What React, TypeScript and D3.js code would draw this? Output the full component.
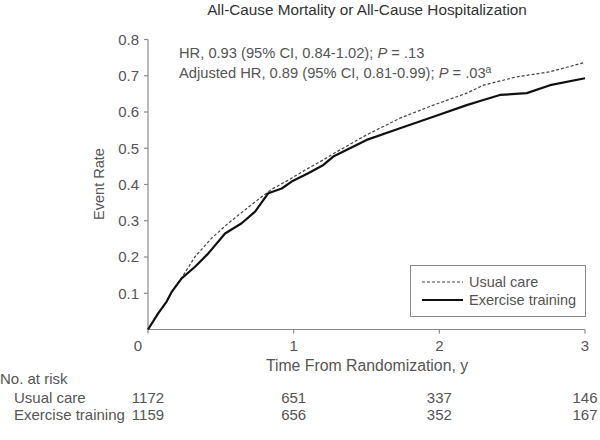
import React from 'react'
import * as d3 from 'd3'

// Cumulative event rates
const usualTimes = [0, 0.071, 0.128, 0.163, 0.243, 0.323, 0.437, 0.551, 0.666, 0.78, 0.849, 0.963, 1.078, 1.204, 1.272, 1.501, 1.73, 1.959, 2.188, 2.302, 2.531, 2.76, 3.0]
const usualRates = [0, 0.045, 0.077, 0.104, 0.15, 0.201, 0.252, 0.293, 0.33, 0.366, 0.387, 0.412, 0.44, 0.468, 0.485, 0.537, 0.583, 0.619, 0.652, 0.674, 0.697, 0.711, 0.737]

const exerciseTimes = [0, 0.071, 0.128, 0.163, 0.231, 0.323, 0.414, 0.529, 0.643, 0.735, 0.826, 0.918, 0.986, 1.1, 1.204, 1.272, 1.501, 1.73, 1.959, 2.188, 2.302, 2.416, 2.6, 2.76, 3.0]
const exerciseRates = [0, 0.045, 0.077, 0.104, 0.141, 0.173, 0.21, 0.265, 0.293, 0.325, 0.376, 0.389, 0.408, 0.431, 0.454, 0.477, 0.523, 0.555, 0.587, 0.619, 0.633, 0.647, 0.652, 0.674, 0.693]

const yTicks = [0.1, 0.2, 0.3, 0.4, 0.5, 0.6, 0.7, 0.8]
const xTicks = [0, 1, 2, 3]

const riskGroups = ['Usual care', 'Exercise training']
const riskCounts = [
  [1172, 651, 337, 146],
  [1159, 656, 352, 167],
]

const FONT = '"Liberation Sans", Arial, sans-serif'
const TEXT = '#555'
const AXIS = '#8a8a8a'

export default function App() {
  const width = 600
  const height = 440

  const x = d3.scaleLinear().domain([0, 3]).range([148, 585])
  const y = d3.scaleLinear().domain([0, 0.8]).range([329.5, 39.5])

  const line = d3.line<[number, number]>()
    .x(d => x(d[0]))
    .y(d => y(d[1]))
    .curve(d3.curveLinear)

  const usual = usualTimes.map((t, i) => [t, usualRates[i]] as [number, number])
  const exercise = exerciseTimes.map((t, i) => [t, exerciseRates[i]] as [number, number])

  return (
    <svg
      width={width}
      height={height}
      style={{ position: 'absolute', left: 0, top: 0, background: '#fff' }}
      fontFamily={FONT}
    >
      {/* title */}
      <text x={367} y={15} textAnchor="middle" fontSize={15.3} fill="#333">
        All-Cause Mortality or All-Cause Hospitalization
      </text>

      {/* y axis */}
      <line x1={x(0)} x2={x(0)} y1={y(0)} y2={y(0.8)} stroke={AXIS} strokeWidth={1.2} />
      {yTicks.map(t => (
        <g key={t}>
          <line x1={x(0) - 4} x2={x(0)} y1={y(t)} y2={y(t)} stroke={AXIS} strokeWidth={1.2} />
          <text x={139} y={y(t)} dy="0.35em" textAnchor="end" fontSize={15} fill={TEXT}>
            {t.toFixed(1)}
          </text>
        </g>
      ))}
      <text
        transform={`translate(104,184) rotate(-90)`}
        textAnchor="middle"
        fontSize={14.5}
        fill={TEXT}
      >
        Event Rate
      </text>

      {/* x axis */}
      <line x1={x(0)} x2={x(3)} y1={y(0)} y2={y(0)} stroke={AXIS} strokeWidth={1.2} />
      {xTicks.map(t => (
        <g key={t}>
          <line x1={x(t)} x2={x(t)} y1={y(0)} y2={y(0) + 4} stroke={AXIS} strokeWidth={1.2} />
          <text x={t === 0 ? x(t) - 10 : x(t)} y={351} textAnchor="middle" fontSize={15} fill={TEXT}>
            {t}
          </text>
        </g>
      ))}
      <text x={367} y={371} textAnchor="middle" fontSize={15.8} fill={TEXT}>
        Time From Randomization, y
      </text>

      {/* curves */}
      <path d={line(usual) ?? ''} fill="none" stroke="#444" strokeWidth={1.2} strokeDasharray="3,2" />
      <path d={line(exercise) ?? ''} fill="none" stroke="#111" strokeWidth={2.2} strokeLinejoin="round" />

      {/* annotation */}
      <text x={179} y={58} fontSize={14.7} fill={TEXT}>
        HR, 0.93 (95% CI, 0.84-1.02); <tspan fontStyle="italic">P</tspan> = .13
      </text>
      <text x={179} y={78} fontSize={14.7} fill={TEXT}>
        Adjusted HR, 0.89 (95% CI, 0.81-0.99); <tspan fontStyle="italic">P</tspan> = .03
        <tspan dy={-5} fontSize={10.5}>a</tspan>
      </text>

      {/* legend */}
      <rect x={410.5} y={265.5} width={175} height={51} fill="#fff" stroke={AXIS} strokeWidth={1} />
      <line x1={422} x2={463} y1={282} y2={282} stroke="#444" strokeWidth={1.2} strokeDasharray="3,2" />
      <line x1={422} x2={463} y1={300} y2={300} stroke="#111" strokeWidth={2.2} />
      <text x={469} y={287} fontSize={14.5} fill={TEXT}>Usual care</text>
      <text x={469} y={305} fontSize={14.5} fill={TEXT}>Exercise training</text>

      {/* number at risk */}
      <text x={0} y={384} fontSize={15} fill={TEXT}>No. at risk</text>
      {riskGroups.map((g, gi) => (
        <g key={g}>
          <text x={14} y={403 + gi * 17} fontSize={15} fill={TEXT}>{g}</text>
          {riskCounts[gi].map((n, i) => (
            <text key={i} x={x(xTicks[i])} y={403 + gi * 17} textAnchor="middle" fontSize={15} fill={TEXT}>
              {n}
            </text>
          ))}
        </g>
      ))}
    </svg>
  )
}
